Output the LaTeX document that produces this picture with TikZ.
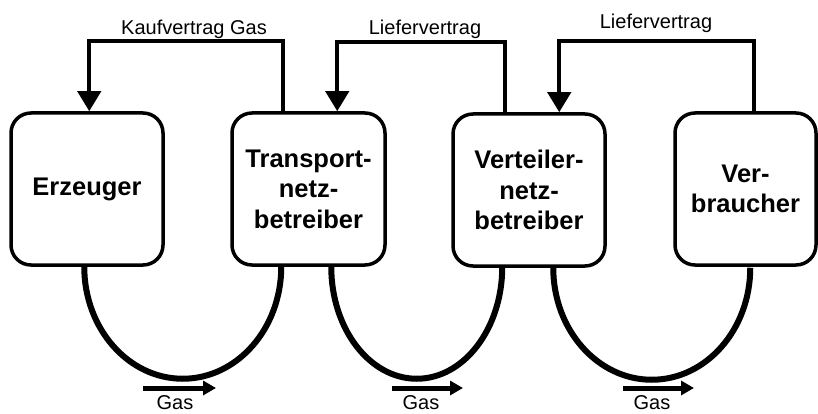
\documentclass[tikz,border=0pt]{standalone}
\usepackage{fontspec}
\setmainfont{Liberation Sans}
\usetikzlibrary{arrows.meta}
\begin{document}
\begin{tikzpicture}[x=1pt,y=1pt,
  box/.style={draw, line width=3.5pt, rounded corners=20pt, minimum height=152pt,
    inner sep=0pt, align=center, font=\fontsize{25.5}{30.5}\selectfont\bfseries},
  contract/.style={line width=4pt, -{Triangle[length=20pt,width=23pt]}},
  pipe/.style={line width=6pt},
  flow/.style={line width=5pt, -{Triangle[length=13pt,width=14pt]}},
  lbl/.style={font=\fontsize{20}{24}\selectfont, anchor=base, inner sep=0pt}]
\useasboundingbox (0,0) rectangle (818,-414);

% boxes
\node[box, minimum width=152pt] (e) at (87,-189) {Erzeuger};
\node[box, minimum width=153pt] (t) at (308.5,-189) {Transport-\\netz-\\betreiber};
\node[box, minimum width=152pt] (v) at (529,-190) {Verteiler-\\netz-\\betreiber};
\node[box, minimum width=141pt] (c) at (745.5,-189) {Ver-\\braucher};

% contracts (top)
\draw[contract] ([xshift=53pt]t.north west) -- ++(0,70) -| ([xshift=80pt]e.north west);
\draw[contract] ([xshift=54pt]v.north west) -- ++(0,70) -| ([xshift=107pt]t.north west);
\draw[contract] ([xshift=81pt]c.north west) -- ++(0,70) -| ([xshift=108pt]v.north west);
\node[lbl] (k1) at (194,-35) {Kaufvertrag Gas};
\node[lbl] (l1) at (425,-34.5) {Liefervertrag};
\node[lbl] (l2) at (656,-29) {Liefervertrag};

% gas pipes (bottom)
\draw[pipe] ([xshift=75pt]e.south west) arc[start angle=180, end angle=360, x radius=98.5pt, y radius=112pt];
\draw[pipe] ([xshift=101pt]t.south west) arc[start angle=180, end angle=360, x radius=85.5pt, y radius=112pt];
\draw[pipe] ([xshift=102pt]v.south west) arc[start angle=180, end angle=360, x radius=98.5pt, y radius=112pt];

% gas flow arrows
\coordinate (g1a) at (143,-388); \coordinate (g1b) at (216,-388);
\coordinate (g2a) at (392,-388); \coordinate (g2b) at (463,-388);
\coordinate (g3a) at (623,-388); \coordinate (g3b) at (694,-388);
\draw[flow] (g1a) -- (g1b);
\draw[flow] (g2a) -- (g2b);
\draw[flow] (g3a) -- (g3b);
\node[lbl] (gas1) at (175,-409.5) {Gas};
\node[lbl] (gas2) at (421,-409.5) {Gas};
\node[lbl] (gas3) at (652,-409.5) {Gas};
\end{tikzpicture}
\end{document}
